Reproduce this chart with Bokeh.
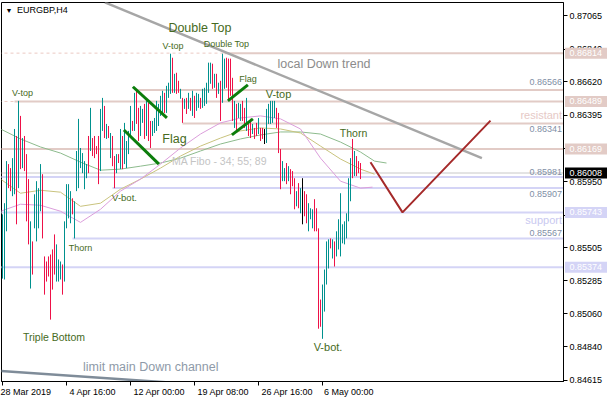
from bokeh.plotting import figure
from bokeh.layouts import row
from bokeh.models import Range1d, FixedTicker, Label, LinearAxis, PrintfTickFormatter, ColumnDataSource
from bokeh.core.properties import value
from bokeh.embed import file_html
from bokeh.resources import INLINE

# ---------------- EURGBP H4 bars ----------------
bar_high = [
    0.85730, 0.85805, 0.86088, 0.86068, 0.86041, 0.86108, 0.86304, 0.86257, 0.86493, 0.86392,
    0.86243, 0.86257, 0.86135, 0.85967, 0.85683, 0.85548, 0.85865, 0.85953, 0.85906, 0.86068,
    0.86000, 0.85447, 0.85413, 0.85447, 0.85460, 0.85494, 0.85595, 0.85528, 0.85427, 0.85413,
    0.85393, 0.85683, 0.85933, 0.85933, 0.85886, 0.85838, 0.85818, 0.86156, 0.86372, 0.86176,
    0.86142, 0.86088, 0.86068, 0.86257, 0.86446, 0.86243, 0.86257, 0.86189, 0.86257, 0.86439,
    0.86513, 0.86459, 0.86338, 0.86324, 0.86277, 0.86257, 0.86122, 0.86135, 0.86135, 0.86304,
    0.86257, 0.86345, 0.86223, 0.86291, 0.86459, 0.86358, 0.86547, 0.86574, 0.86446, 0.86459,
    0.86439, 0.86473, 0.86493, 0.86480, 0.86358, 0.86358, 0.86378, 0.86493, 0.86473, 0.86527,
    0.86561, 0.86547, 0.86594, 0.86615, 0.86810, 0.86783, 0.86675, 0.86682, 0.86628, 0.86574,
    0.86513, 0.86507, 0.86513, 0.86547, 0.86513, 0.86561, 0.86527, 0.86547, 0.86540, 0.86513,
    0.86574, 0.86581, 0.86615, 0.86750, 0.86750, 0.86743, 0.86675, 0.86675, 0.86615, 0.86628,
    0.86810, 0.86777, 0.86783, 0.86777, 0.86777, 0.86648, 0.86493, 0.86473, 0.86480, 0.86473,
    0.86493, 0.86446, 0.86513, 0.86358, 0.86372, 0.86338, 0.86311, 0.86345, 0.86378, 0.86311,
    0.86311, 0.86304, 0.86439, 0.86473, 0.86493, 0.86493, 0.86493, 0.86446, 0.86412, 0.86169,
    0.86088, 0.86041, 0.86075, 0.86054, 0.86034, 0.86021, 0.85973, 0.85886, 0.85940, 0.85906,
    0.85973, 0.85886, 0.85865, 0.85805, 0.85771, 0.85764, 0.85832, 0.85771, 0.85636, 0.85157,
    0.85258, 0.85359, 0.85548, 0.85562, 0.85568, 0.85562, 0.85548, 0.85616, 0.85697, 0.85872,
    0.85663, 0.85683, 0.85737, 0.85973, 0.86108, 0.86237, 0.86156, 0.86122, 0.86088, 0.86075,
]
bar_low = [
    0.85298, 0.85292, 0.85616, 0.85906, 0.85886, 0.85852, 0.85865, 0.85663, 0.85906, 0.86034,
    0.86041, 0.86021, 0.85683, 0.85528, 0.85231, 0.85325, 0.85636, 0.85548, 0.85636, 0.85751,
    0.85568, 0.85190, 0.85278, 0.85312, 0.85022, 0.85224, 0.85325, 0.85278, 0.85278, 0.85292,
    0.85190, 0.85278, 0.85636, 0.85703, 0.85670, 0.85730, 0.85568, 0.85886, 0.85906, 0.86041,
    0.86007, 0.85899, 0.85973, 0.86007, 0.86156, 0.86122, 0.86108, 0.86135, 0.85933, 0.86021,
    0.86291, 0.86243, 0.86237, 0.86243, 0.86108, 0.86054, 0.85906, 0.86007, 0.86075, 0.86034,
    0.86034, 0.86068, 0.86041, 0.86135, 0.86243, 0.86291, 0.86291, 0.86338, 0.86223, 0.86257,
    0.86345, 0.86237, 0.86257, 0.86223, 0.86176, 0.86257, 0.86277, 0.86291, 0.86324, 0.86392,
    0.86412, 0.86412, 0.86412, 0.86513, 0.86540, 0.86547, 0.86547, 0.86540, 0.86547, 0.86507,
    0.86345, 0.86439, 0.86405, 0.86439, 0.86426, 0.86392, 0.86378, 0.86426, 0.86446, 0.86439,
    0.86446, 0.86459, 0.86473, 0.86547, 0.86608, 0.86574, 0.86581, 0.86513, 0.86540, 0.86358,
    0.86480, 0.86574, 0.86581, 0.86493, 0.86527, 0.86358, 0.86311, 0.86291, 0.86378, 0.86358,
    0.86358, 0.86311, 0.86291, 0.86257, 0.86243, 0.86270, 0.86237, 0.86257, 0.86270, 0.86223,
    0.86237, 0.86203, 0.86210, 0.86338, 0.86338, 0.86345, 0.86378, 0.86311, 0.86142, 0.85899,
    0.85953, 0.85953, 0.85933, 0.85953, 0.85865, 0.85919, 0.85764, 0.85784, 0.85771, 0.85737,
    0.85663, 0.85717, 0.85670, 0.85616, 0.85697, 0.85636, 0.85616, 0.85616, 0.84961, 0.84974,
    0.84893, 0.85076, 0.85258, 0.85366, 0.85501, 0.85433, 0.85379, 0.85447, 0.85494, 0.85447,
    0.85535, 0.85528, 0.85568, 0.85683, 0.85818, 0.85973, 0.85987, 0.85987, 0.86007, 0.85967,
]
# U = bullish bar, D = bearish bar, N = unchanged
bar_dir = (
    "UUUDDUUDUD" "UDDDUDUUUU" "DDDDDDDUUU" "DUUUUDUUUU" "UUUDUDDDDU"
    "UDUDUDDUDU" "DUUUUDUDDU" "UDUDDUUUUU" "UDUUUDUDDU" "DUDUDUDUUD"
    "UUUUUDUDUD" "UUDDDDUDUU" "DDUDDUDDUD" "DNUUUUUDDD" "UUDUDDDUDU"
    "NDDUUUDDDD" "UUUUDUDUUU" "UUUUUDUDDD"
)

# ---------------- moving averages (Fibo 34 / 55 / 89) ----------------
ma89_x = [-1, 9, 19, 29, 39, 49, 59, 69, 79, 89, 99, 109, 119, 129, 139, 149, 159, 169, 179, 186, 192]
ma89_y = [0.86304, 0.86237, 0.86183, 0.86142, 0.86081, 0.86027, 0.86034, 0.86054, 0.86075, 0.86108,
          0.86156, 0.86203, 0.86237, 0.86264, 0.86284, 0.86284, 0.86270, 0.86216, 0.86149, 0.86088, 0.86075]
ma55_x = [-1, 9, 19, 29, 39, 49, 59, 69, 79, 89, 99, 109, 119, 129, 139, 149, 159, 169, 179, 186]
ma55_y = [0.85967, 0.85872, 0.85892, 0.85879, 0.85784, 0.85805, 0.85899, 0.85967, 0.86041, 0.86122,
          0.86189, 0.86243, 0.86291, 0.86311, 0.86304, 0.86277, 0.86189, 0.86102, 0.86034, 0.86000]
ma34_x = [-1, 9, 19, 29, 39, 49, 59, 69, 79, 89, 99, 109, 119, 129, 139, 149, 159, 169, 179, 185]
ma34_y = [0.85751, 0.85798, 0.85791, 0.85751, 0.85676, 0.85764, 0.85886, 0.85967, 0.86068, 0.86176,
          0.86270, 0.86345, 0.86378, 0.86392, 0.86372, 0.86304, 0.86108, 0.85953, 0.85906, 0.85913]

# ---------------- horizontal levels ----------------
res_levels = [0.86814, 0.86566, 0.86489, 0.86341, 0.86169]
res_start = [111, 67, 6, 90, -2]
sup_levels = [0.85981, 0.85907, 0.85743, 0.85567, 0.85374]
sup_start = [-2, 55, -2, 35, -2]
last_price = 0.86008

# ---------------- drawn objects ----------------
trend_x = [51.2, 239.7]            # local down trend
trend_y = [0.87155, 0.86108]
channel_x = [-2, 100]              # limit of main down channel
channel_y = [0.84678, 0.84584]
proj_x = [184, 200, 244]           # expected path
proj_y = [0.86080, 0.85743, 0.86360]
flags = [
    ([65.2, 82.2], [0.86588, 0.86378]),
    ([60.7, 78.2], [0.86297, 0.86068]),
    ([112.7, 122.7], [0.86493, 0.86601]),
    ([114.7, 125.2], [0.86264, 0.86372]),
]

price_ticks = [0.87065, 0.86840, 0.86620, 0.86395, 0.86170, 0.85950,
               0.85725, 0.85505, 0.85285, 0.85060, 0.84840, 0.84615]
date_ticks = [0, 32, 64, 96, 128, 160]
date_labels = ["28 Mar 2019", "4 Apr 16:00", "12 Apr 00:00", "19 Apr 08:00", "26 Apr 16:00", "6 May 00:00"]

FONT = "Liberation Sans"
UP = "#00918E"
DOWN = "#EE1148"
ROSE = "#E2CBC6"
LAV = "#D4D4F6"
NOTE = "#466A22"
NBSP = "\u00a0"

Y_RANGE = Range1d(0.84606, 0.871545)

p = figure(width=610, height=400, output_backend="svg", toolbar_location=None,
           x_range=Range1d(-0.5, 280.5), y_range=Y_RANGE,
           x_axis_location=None, y_axis_location=None,
           min_border_left=1, min_border_top=2, min_border_right=47, min_border_bottom=19,
           background_fill_color="white", border_fill_color="white",
           outline_line_color="black", outline_line_width=1)
p.grid.visible = False

yax = LinearAxis(ticker=FixedTicker(ticks=price_ticks), formatter=PrintfTickFormatter(format="%.5f"))
yax.axis_line_color = "black"
yax.major_tick_out = 4
yax.major_tick_in = 0
yax.minor_tick_line_color = None
yax.major_label_standoff = 2
yax.major_label_text_font = FONT
yax.major_label_text_font_size = "9px"
yax.major_label_text_color = "black"
p.add_layout(yax, "right")


def left_start(tick, label):
    # pad on the left so a centred tick label starts just right of its tick
    if tick == date_ticks[0]:
        return label
    n = round((len(label) * 4.5 + 3) / 2.5)
    return NBSP * n + label


xax = LinearAxis(ticker=FixedTicker(ticks=date_ticks),
                 major_label_overrides={t: left_start(t, s) for t, s in zip(date_ticks, date_labels)})
xax.axis_line_color = "black"
xax.major_tick_out = 4
xax.major_tick_in = 0
xax.minor_tick_line_color = None
xax.major_label_standoff = 1
xax.major_label_text_font = FONT
xax.major_label_text_font_size = "9px"
xax.major_label_text_color = "black"
p.add_layout(xax, "below")

# level lines
for lv, st in zip(res_levels, res_start):
    p.segment(x0=st, y0=lv, x1=290, y1=lv, line_color=ROSE, line_width=2)
for lv, st in zip(sup_levels, sup_start):
    p.segment(x0=st, y0=lv, x1=290, y1=lv, line_color=LAV, line_width=2)
# dashed lead-ins of the two upper levels
p.segment(x0=[-2, -2], y0=[res_levels[0], res_levels[2]], x1=[res_start[0], res_start[2]],
          y1=[res_levels[0], res_levels[2]], line_color="#EBC9C2", line_width=1, line_dash="3 3")
p.segment(x0=-2, y0=last_price, x1=290, y1=last_price, line_color="#C8C8C8", line_width=1)

# moving averages
p.line(ma89_x, ma89_y, line_color="#8DBB8D", line_width=1)
p.line(ma55_x, ma55_y, line_color="#C9C37E", line_width=1)
p.line(ma34_x, ma34_y, line_color="#DB9EDB", line_width=1)

# bars
idx = list(range(len(bar_high)))
colors = [UP if d == "U" else DOWN if d == "D" else "black" for d in bar_dir]
src = ColumnDataSource(dict(x=idx, hi=bar_high, lo=bar_low, c=colors))
p.segment(x0="x", y0="hi", x1="x", y1="lo", line_color="c", line_width=1, source=src)

# drawn lines
p.line(trend_x, trend_y, line_color="#A6A6A6", line_width=2.5)
p.line(channel_x, channel_y, line_color="#7F8C99", line_width=2.5)
p.line(proj_x, proj_y, line_color="#A52A2A", line_width=2)
for fx, fy in flags:
    p.line(fx, fy, line_color="#0B7D0B", line_width=3)


def note(x, y, text, size, color, align="center"):
    p.add_layout(Label(x=x, y=y, text=text, text_font=FONT, text_font_size=size,
                       text_color=color, text_align=align, text_baseline="middle"))


note(3.25, 0.87101, "\u25BC", "7px", "black")
note(7.25, 0.87104, "EURGBP,H4", "9px", "black", "left")
note(98.75, 0.86986, "Double Top", "12.5px", NOTE)
note(85.25, 0.86864, "V-top", "9px", NOTE)
note(112.0, 0.86874, "Double Top", "9px", NOTE)
note(10.0, 0.86547, "V-top", "9px", NOTE)
note(122.75, 0.86638, "Flag", "9px", NOTE)
note(86.0, 0.86237, "Flag", "12.5px", NOTE)
note(138.0, 0.86540, "V-top", "11px", NOTE)
note(175.5, 0.86274, "Thorn", "10.5px", NOTE)
note(61.0, 0.85842, "V-bot.", "9.5px", NOTE)
note(39.0, 0.85504, "Thorn", "9px", NOTE)
note(25.75, 0.84907, "Triple Bottom", "10.5px", NOTE)
note(162.75, 0.84836, "V-bot.", "11px", NOTE)
note(160.75, 0.86743, "local Down trend", "12.5px", "#8C8C8C")
note(40.25, 0.84701, "limit main Down channel", "12.5px", "#8E9AA8", "left")
note(84.75, 0.86088, "MA Fibo - 34; 55; 89", "10.5px", "#C4C4C4", "left")
note(279.75, 0.86399, "resistant", "11px", "#E6C9C6", "right")
note(279.75, 0.85693, "support", "11px", "#C9C9F0", "right")
for yv, txt in [(0.86621, "0.86566"), (0.86307, "0.86341"), (0.86014, "0.85981"),
                (0.85865, "0.85907"), (0.85605, "0.85567")]:
    note(279.75, yv, txt, "9px", "#7F8FA6", "right")

# ---- price boxes: a transparent strip laid over the price scale ----
box_levels = [res_levels[0], res_levels[2], res_levels[4], sup_levels[2], sup_levels[4], last_price]
box_fills = [ROSE, ROSE, ROSE, LAV, LAV, "black"]

strip = figure(width=47, height=400, output_backend="svg", toolbar_location=None,
               x_range=Range1d(0, 47), y_range=Y_RANGE,
               x_axis_location=None, y_axis_location=None,
               min_border_left=0, min_border_right=0, min_border_top=2, min_border_bottom=19,
               background_fill_alpha=0, border_fill_alpha=0, outline_line_color=None,
               margin=(0, 0, 0, -47))
strip.grid.visible = False
bsrc = ColumnDataSource(dict(y=box_levels, fill=box_fills, txt=[f"{v:.5f}" for v in box_levels]))
strip.rect(x=22.5, y="y", width=42, height=11, height_units="screen",
           fill_color="fill", line_color=None, source=bsrc)
strip.text(x=6, y="y", text="txt", text_font=value(FONT), text_font_size="9px",
           text_color="white", text_baseline="middle", text_align="left", source=bsrc)

layout = row(p, strip, spacing=0)
open("out.html", "w").write(file_html(layout, INLINE))
